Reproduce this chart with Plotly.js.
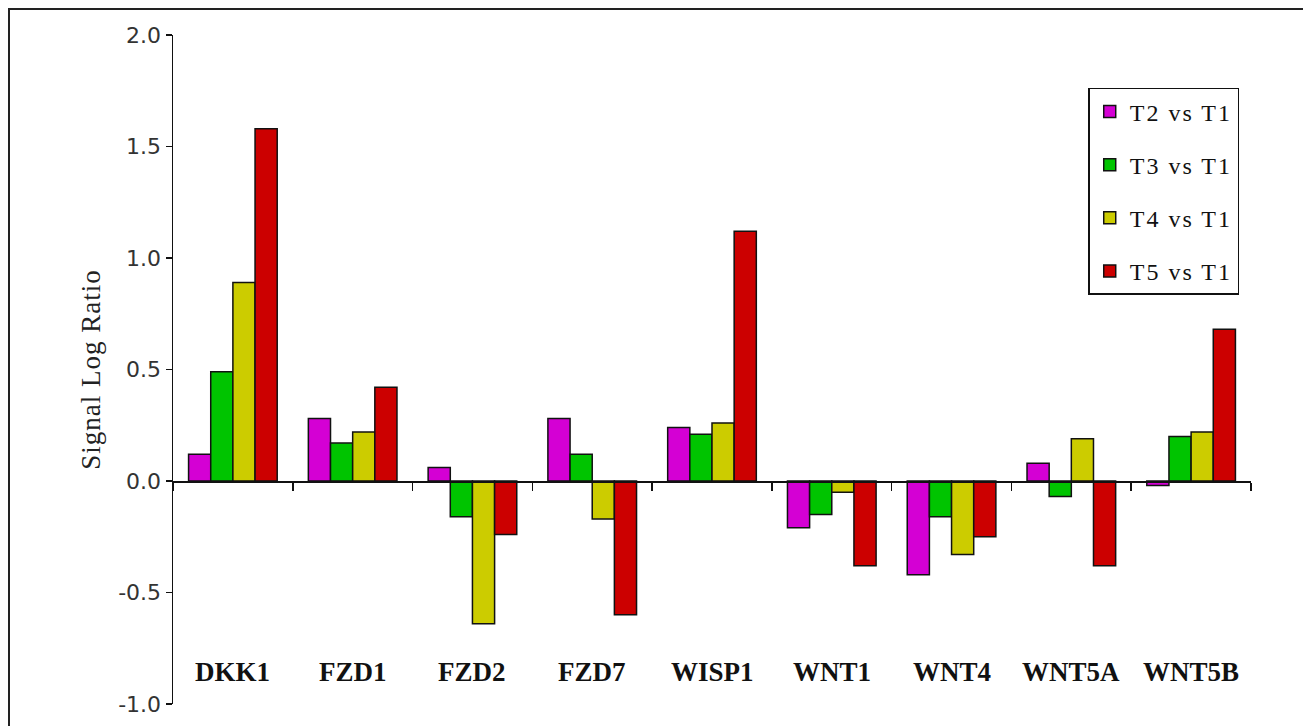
<!DOCTYPE html>
<html>
<head>
<meta charset="utf-8">
<script src="https://cdn.plot.ly/plotly-3.0.1.min.js"></script>
<style>
  html, body { margin: 0; padding: 0; background: #fff; overflow: hidden; }
  #wrap { position: relative; width: 1303px; height: 726px; }
  #chart { position: absolute; left: 0; top: 0; width: 1303px; height: 726px; }
  #frame { position: absolute; left: 8px; top: 8px; width: 1400px; height: 800px;
           border-left: 2px solid #222; border-top: 2px solid #222; pointer-events: none; }
  .legendtext { letter-spacing: 2px; }
  .ytitle { letter-spacing: 1px; }
</style>
</head>
<body>
<div id="wrap">
  <div id="chart"></div>
  <div id="frame"></div>
</div>
<script>
const genes = ["DKK1", "FZD1", "FZD2", "FZD7", "WISP1", "WNT1", "WNT4", "WNT5A", "WNT5B"];
const seriesNames = ["T2 vs T1", "T3 vs T1", "T4 vs T1", "T5 vs T1"];
const t2 = [0.12, 0.28, 0.06, 0.28, 0.24, -0.21, -0.42, 0.08, -0.02];
const t3 = [0.49, 0.17, -0.16, 0.12, 0.21, -0.15, -0.16, -0.07, 0.20];
const t4 = [0.89, 0.22, -0.64, -0.17, 0.26, -0.05, -0.33, 0.19, 0.22];
const t5 = [1.58, 0.42, -0.24, -0.60, 1.12, -0.38, -0.25, -0.38, 0.68];
const yTickVals = [-1.0, -0.5, 0.0, 0.5, 1.0, 1.5, 2.0];
const yTickText = ["-1.0", "-0.5", "0.0", "0.5", "1.0", "1.5", "2.0"];
const colors = ["#d400d4", "#00c400", "#cccc00", "#cc0000"];
const labelY = -0.855;

const values = [t2, t3, t4, t5];
const traces = values.map((v, i) => ({
  type: "bar",
  x: genes,
  y: v,
  name: seriesNames[i],
  legendgroup: "g" + i,
  marker: { color: colors[i], line: { color: "#111", width: 1.5 } },
  hoverinfo: "x+y+name"
}));

const annotations = genes.map(g => ({
  x: g, y: labelY, xref: "x", yref: "y",
  text: g, showarrow: false, xanchor: "center", yanchor: "middle",
  font: { family: "Liberation Serif", size: 27, color: "#111", weight: "bold" }
}));

const layout = {
  width: 1303, height: 726,
  margin: { l: 173, r: 52, t: 35, b: 22 },
  paper_bgcolor: "#fff", plot_bgcolor: "#fff",
  barmode: "group", bargap: 0.26, bargroupgap: 0,
  showlegend: true,
  legend: {
    x: 0.849, y: 0.921, xanchor: "left", yanchor: "top",
    bgcolor: "#fff", bordercolor: "#111", borderwidth: 1.5,
    font: { family: "Liberation Serif", size: 24, color: "#111" },
    traceorder: "grouped", tracegroupgap: 19
  },
  xaxis: {
    type: "category",
    anchor: "free", position: 1 / 3,
    showline: true, linecolor: "#111", linewidth: 1.5,
    ticks: "outside", tickson: "boundaries", ticklen: 8, tickcolor: "#111", tickwidth: 1.5,
    showticklabels: false, showgrid: false, zeroline: false,
    fixedrange: true
  },
  yaxis: {
    range: [-1, 2],
    tickmode: "array", tickvals: yTickVals, ticktext: yTickText,
    showline: true, linecolor: "#111", linewidth: 1.5,
    ticks: "outside", ticklen: 6, tickcolor: "#111", tickwidth: 1.5,
    showgrid: false, zeroline: false,
    tickfont: { family: "DejaVu Sans", size: 22, color: "#333" },
    title: { text: "Signal Log Ratio", standoff: 9,
             font: { family: "Liberation Serif", size: 27, color: "#222" } },
    fixedrange: true
  },
  annotations: annotations
};

Plotly.newPlot("chart", traces, layout, { displayModeBar: false, staticPlot: true });
</script>
</body>
</html>
